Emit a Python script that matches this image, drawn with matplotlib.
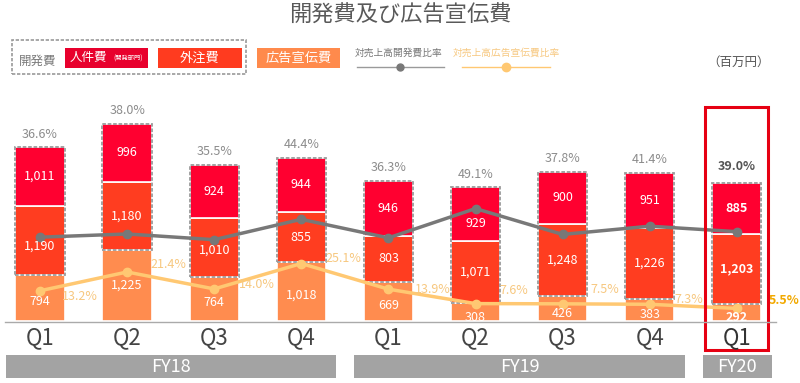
import matplotlib
matplotlib.use("Agg")
import matplotlib.pyplot as plt
from matplotlib.patches import Rectangle
from matplotlib.lines import Line2D

plt.rcParams['font.family'] = ['Noto Sans CJK JP', 'DejaVu Sans']

# ---------------- data ----------------
quarters = ["Q1", "Q2", "Q3", "Q4", "Q1", "Q2", "Q3", "Q4", "Q1"]
fiscal_years = ["FY18", "FY19", "FY20"]
fy_span = [(0, 3), (4, 7), (8, 8)]
personnel = [1011, 996, 924, 944, 946, 929, 900, 951, 885]      # 人件費(開発部門)
outsourcing = [1190, 1180, 1010, 855, 803, 1071, 1248, 1226, 1203]  # 外注費
advertising = [794, 1225, 764, 1018, 669, 308, 426, 383, 292]   # 広告宣伝費
rd_ratio = [36.6, 38.0, 35.5, 44.4, 36.3, 49.1, 37.8, 41.4, 39.0]  # 対売上高開発費比率
ad_ratio = [13.2, 21.4, 14.0, 25.1, 13.9, 7.6, 7.5, 7.3, 5.5]      # 対売上高広告宣伝費比率

# label offsets (pixels)
ad_label_off = [(40, -6), (41, 7), (43, 4), (42, 5), (44, 0), (38, 13), (42, 14), (39, 5), (47, 8)]
out_label_dy = [-6, 0, -3, 0, 0, 0, 0, 0, 0]
pers_label_dy = [0, 0, 0, 0, 0, -9, 0, 0, 0]
adv_label_dy = [-4, 0, -4, -4, -4, -5, -5, -5, -5]

C_PERS = "#FF0030"
C_OUT = "#FF3D20"
C_ADV = "#FF8C4F"
C_GREY = "#787878"
C_YEL = "#FFC872"

W, H = 800, 383
fig = plt.figure(figsize=(W / 100, H / 100), dpi=100)

def fx(px):
    return px / W

def fy(py):
    return 1 - py / H

base_px = 321
x0_px, step_px = 40, 87.1
ax = fig.add_axes([0, fy(base_px), 1, 232 / H])
ax.set_xlim(-x0_px / step_px, (W - x0_px) / step_px)
ax.set_ylim(0, 4000)
ax.axis("off")
ax2 = ax.twinx()
ax2.set_ylim(0, 232 / 2.29)
ax2.axis("off")

xs = list(range(len(quarters)))
bw = 0.565
ax.bar(xs, advertising, bw, color=C_ADV, edgecolor="white", linewidth=1.2, zorder=2)
ax.bar(xs, outsourcing, bw, bottom=advertising, color=C_OUT, edgecolor="white", linewidth=1.2, zorder=2)
bot2 = [a + o for a, o in zip(advertising, outsourcing)]
ax.bar(xs, personnel, bw, bottom=bot2, color=C_PERS, edgecolor="white", linewidth=1.2, zorder=2)
tops = [b + p for b, p in zip(bot2, personnel)]

ax2.plot(xs, rd_ratio, color=C_GREY, linewidth=2.5, marker="o", markersize=6, zorder=5)
ax2.plot(xs, ad_ratio, color=C_YEL, linewidth=2.5, marker="o", markersize=6, zorder=5)

for i in xs:
    # dashed outline around development-cost part
    ax.add_patch(Rectangle((i - bw / 2, advertising[i]), bw, outsourcing[i] + personnel[i],
                           fill=False, edgecolor="#9A9A9A", linewidth=1.3,
                           linestyle=(0, (2, 1)), zorder=3))
    bold = "bold" if i == 8 else "normal"
    segs = [(advertising[i] / 2, advertising[i], adv_label_dy[i]),
            (advertising[i] + outsourcing[i] / 2, outsourcing[i], out_label_dy[i]),
            (bot2[i] + personnel[i] / 2, personnel[i], pers_label_dy[i])]
    for yc, val, dy in segs:
        ax2.annotate(f"{val:,}", (i, yc), xycoords=ax.transData, xytext=(0, dy),
                     textcoords="offset pixels", ha="center", va="center",
                     color="white", fontsize=9, fontweight=bold, zorder=6)
    # rd ratio label above bar
    if i == 8:
        ax.annotate(f"{rd_ratio[i]:.1f}%", (i, tops[i]), xytext=(0, 16), textcoords="offset pixels",
                    ha="center", va="center", fontsize=9, color="#555555", fontweight="bold")
    else:
        ax.annotate(f"{rd_ratio[i]:.1f}%", (i, tops[i]), xytext=(0, 13), textcoords="offset pixels",
                    ha="center", va="center", fontsize=9, color="#8C8C8C")

for i in xs:
    dx, dy = ad_label_off[i]
    if i == 8:
        ax2.annotate(f"{ad_ratio[i]:.1f}%", (i, ad_ratio[i]), xytext=(dx, dy), textcoords="offset pixels",
                     ha="center", va="center", fontsize=9, color="#F2A900", fontweight="bold",
                     annotation_clip=False, zorder=6)
    else:
        ax2.annotate(f"{ad_ratio[i]:.1f}%", (i, ad_ratio[i]), xytext=(dx, dy), textcoords="offset pixels",
                     ha="center", va="center", fontsize=9, color="#F7C880", annotation_clip=False,
                     zorder=6)

# baseline
fig.add_artist(Line2D([fx(5), fx(776)], [fy(321.5), fy(321.5)], color="#AAAAAA", linewidth=1))

# quarter labels
for i, q in enumerate(quarters):
    px = x0_px + step_px * i
    fig.text(fx(px), fy(338), q, ha="center", va="center", fontsize=16,
             color="#333333" if i == 8 else "#444444")

# fiscal year bands
for fyl, (a, b) in zip(fiscal_years, fy_span):
    left = x0_px + step_px * (a - 0.39)
    right = x0_px + step_px * (b + 0.40)
    fig.add_artist(Rectangle((fx(left), fy(378)), fx(right - left), 23 / H,
                             facecolor="#A3A3A3", edgecolor="none"))
    fig.text(fx((left + right) / 2), fy(366.5), fyl, ha="center", va="center",
             fontsize=13, color="white")

# highlight rectangle for FY20 Q1
fig.add_artist(Rectangle((fx(705), fy(350)), fx(63), 243 / H, fill=False,
                         edgecolor="#E60012", linewidth=2.2))

# title
fig.text(0.5, fy(15), "開発費及び広告宣伝費", ha="center", va="center", fontsize=16, color="#595959")

# legend
fig.add_artist(Rectangle((fx(12), fy(74)), fx(234), 34 / H, fill=False, edgecolor="#9A9A9A",
                         linewidth=1.2, linestyle=(0, (2, 1))))
fig.text(fx(38), fy(61), "開発費", ha="center", va="center", fontsize=9, color="#7A7A7A")
fig.add_artist(Rectangle((fx(65), fy(68)), fx(83), 20 / H, facecolor="#E8002D", edgecolor="none"))
fig.text(fx(88), fy(58), "人件費", ha="center", va="center", fontsize=9, color="white")
fig.text(fx(128), fy(59), "(開発部門)", ha="center", va="center", fontsize=4.5, color="white")
fig.add_artist(Rectangle((fx(158), fy(68)), fx(84), 20 / H, facecolor="#FF3B1F", edgecolor="none"))
fig.text(fx(200), fy(58.5), "外注費", ha="center", va="center", fontsize=9.5, color="white")
fig.add_artist(Rectangle((fx(257), fy(68)), fx(83), 20 / H, facecolor="#FF8A4C", edgecolor="none"))
fig.text(fx(298.5), fy(58.5), "広告宣伝費", ha="center", va="center", fontsize=9.5, color="white")

fig.text(fx(399), fy(53), "対売上高開発費比率", ha="center", va="center", fontsize=7, color="#777777")
fig.add_artist(Line2D([fx(357), fx(444)], [fy(67), fy(67)], color="#9A9A9A", linewidth=1))
fig.add_artist(Line2D([fx(400)], [fy(67)], color=C_GREY, marker="o", markersize=5, linestyle="none"))
fig.text(fx(506), fy(53), "対売上高広告宣伝費比率", ha="center", va="center", fontsize=7, color="#F7C880")
fig.add_artist(Line2D([fx(462), fx(550)], [fy(67), fy(67)], color=C_YEL, linewidth=1))
fig.add_artist(Line2D([fx(506)], [fy(67)], color=C_YEL, marker="o", markersize=6, linestyle="none"))

fig.text(fx(739), fy(62), "（百万円）", ha="center", va="center", fontsize=9, color="#555555")

fig.savefig("out.png", dpi=100)
